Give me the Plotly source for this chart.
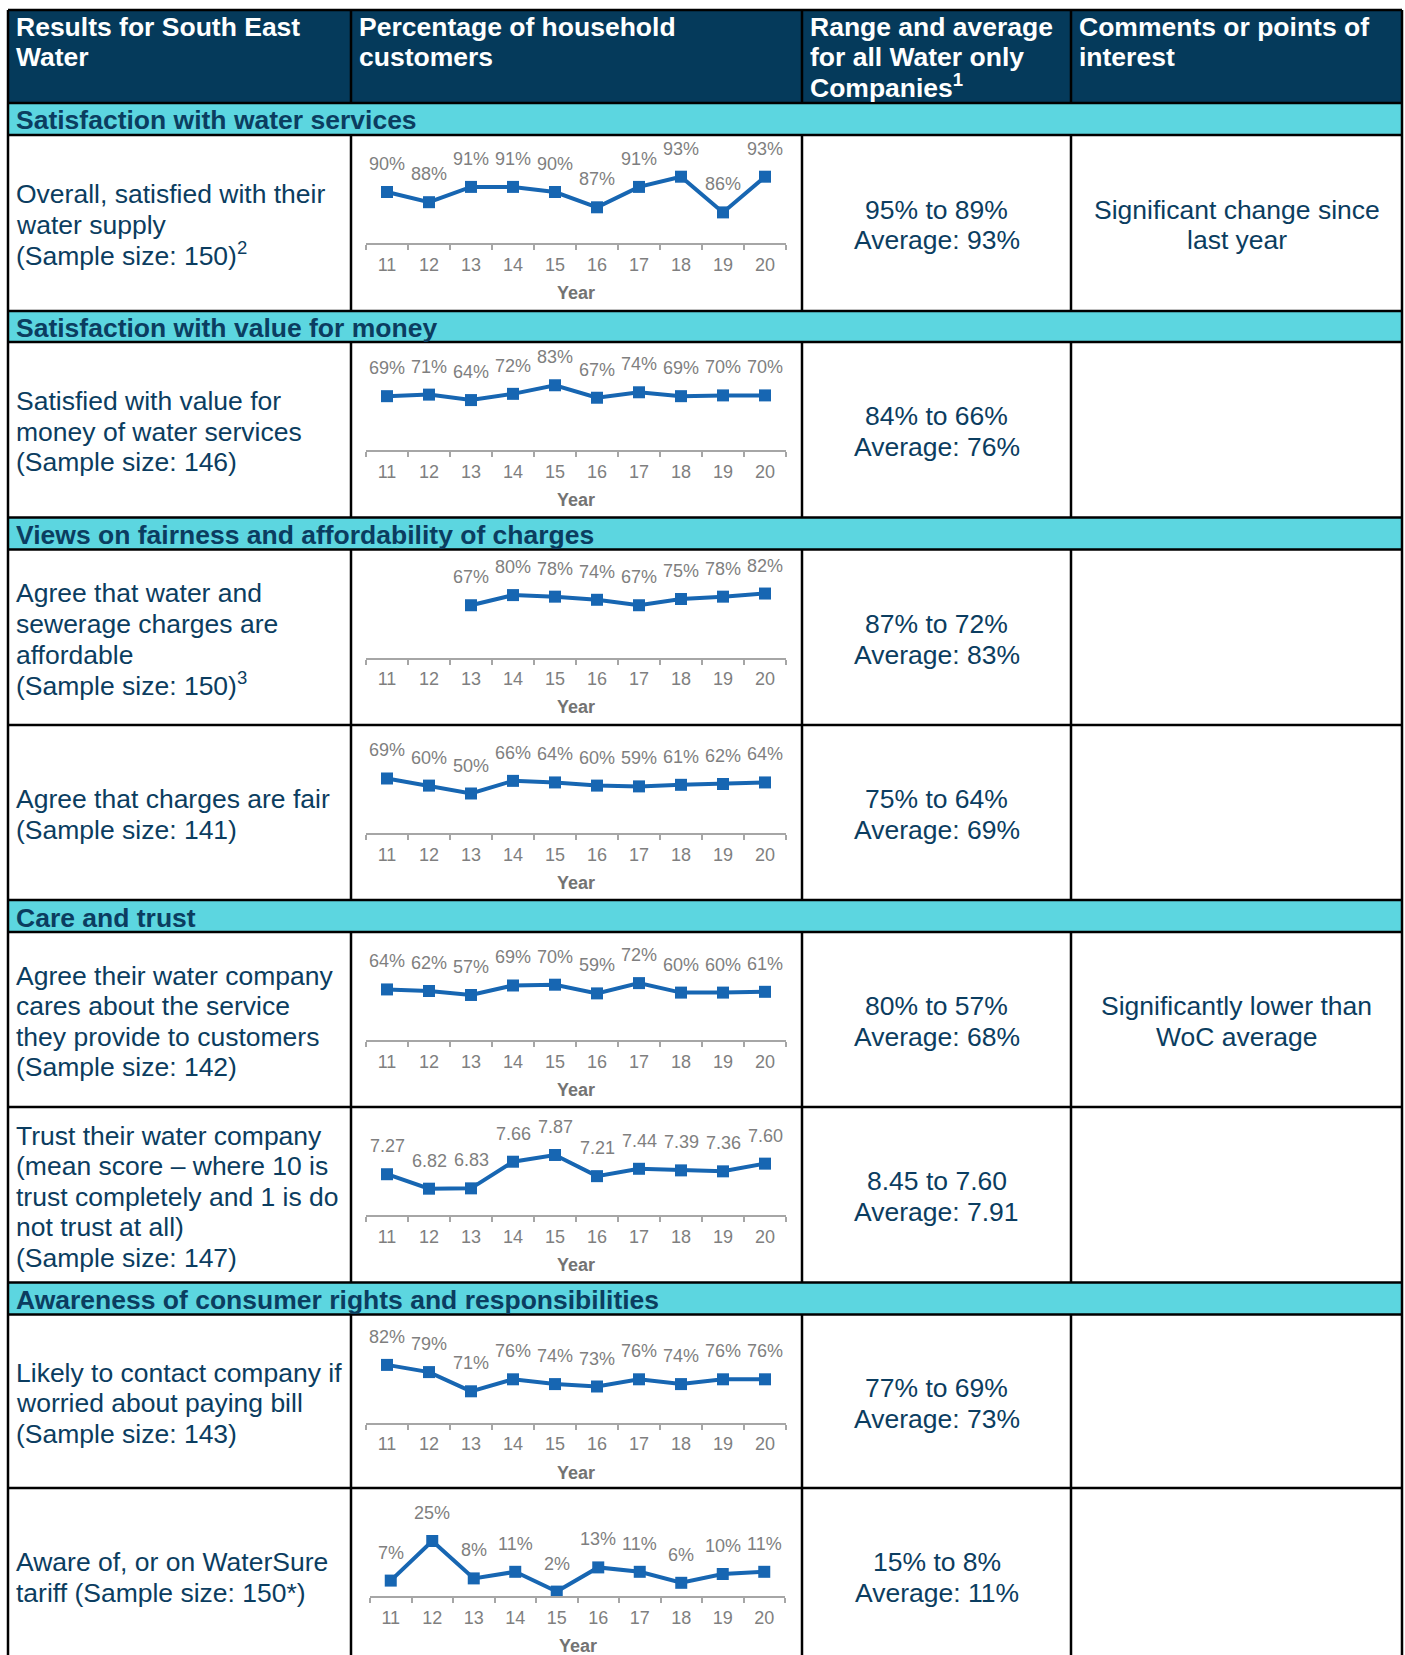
import plotly.graph_objects as go

W, H = 1405, 1655

# ---------------- data ----------------
years = ["11", "12", "13", "14", "15", "16", "17", "18", "19", "20"]

overall_satisfied = [90, 88, 91, 91, 90, 87, 91, 93, 86, 93]
value_for_money = [69, 71, 64, 72, 83, 67, 74, 69, 70, 70]
charges_affordable = [None, None, 67, 80, 78, 74, 67, 75, 78, 82]
charges_fair = [69, 60, 50, 66, 64, 60, 59, 61, 62, 64]
company_cares = [64, 62, 57, 69, 70, 59, 72, 60, 60, 61]
trust_score = [7.27, 6.82, 6.83, 7.66, 7.87, 7.21, 7.44, 7.39, 7.36, 7.60]
contact_if_worried = [82, 79, 71, 76, 74, 73, 76, 74, 76, 76]
watersure = [7, 25, 8, 11, 2, 13, 11, 6, 10, 11]

header_cells = [
    ["Results for South East", "Water"],
    ["Percentage of household", "customers"],
    ["Range and average", "for all Water only", "Companies<sup>1</sup>"],
    ["Comments or points of", "interest"],
]

section_titles = [
    "Satisfaction with water services",
    "Satisfaction with value for money",
    "Views on fairness and affordability of charges",
    "Care and trust",
    "Awareness of consumer rights and responsibilities",
]

row_labels = [
    ["Overall, satisfied with their", "water supply", "(Sample size: 150)<sup>2</sup>"],
    ["Satisfied with value for", "money of water services", "(Sample size: 146)"],
    ["Agree that water and", "sewerage charges are", "affordable", "(Sample size: 150)<sup>3</sup>"],
    ["Agree that charges are fair", "(Sample size: 141)"],
    ["Agree their water company", "cares about the service", "they provide to customers", "(Sample size: 142)"],
    ["Trust their water company", "(mean score \u2013 where 10 is", "trust completely and 1 is do",
     "not trust at all)", "(Sample size: 147)"],
    ["Likely to contact company if", "worried about paying bill", "(Sample size: 143)"],
    ["Aware of, or on WaterSure", "tariff (Sample size: 150*)"],
]

range_text = [
    ["95% to 89%", "Average: 93%"],
    ["84% to 66%", "Average: 76%"],
    ["87% to 72%", "Average: 83%"],
    ["75% to 64%", "Average: 69%"],
    ["80% to 57%", "Average: 68%"],
    ["8.45 to 7.60", "Average: 7.91"],
    ["77% to 69%", "Average: 73%"],
    ["15% to 8%", "Average: 11%"],
]

comments = [
    ["Significant change since", "last year"],
    [], [], [],
    ["Significantly lower than", "WoC average"],
    [], [], [],
]

series = [overall_satisfied, value_for_money, charges_affordable, charges_fair,
          company_cares, trust_score, contact_if_worried, watersure]
is_score = [False, False, False, False, False, True, False, False]

# ---------------- layout geometry (pixels) ----------------
TABLE_L, TABLE_R = 8, 1402
COL_X = [351, 802, 1071]
HEADER = (10, 103)
SECTIONS = [(103, 135), (311, 342), (517.5, 549.5), (900, 932), (1282.5, 1314.5)]
ROWS = [(135, 311), (342, 517.5), (549.5, 725), (725, 900),
        (932, 1107), (1107, 1282.5), (1314.5, 1488), (1488, 1663)]
# value at the axis line and pixels per unit for each chart
Y_MIN = [80, 0, 0, 0, 0, 6, 58, 0]
PX_PER_UNIT = [5.1, 0.78, 0.78, 0.79, 0.79, 32.1, 2.4, 2.2]
CHART_X = [(366, 786)] * 7 + [(370, 785)]

NAVY = "#053A5B"
TEXT_NAVY = "#0B3D60"
TEAL = "#5CD6E0"
BLUE = "#1766B2"
GRAY = "#7F7F7F"
AXIS_GRAY = "#A6A6A6"
FONT = "Liberation Sans, Arial, sans-serif"
BODY_SIZE = 26.5
LINE_H = 30.6


def fx(x):
    return x / W


def fy(y):
    return 1 - y / H


fig = go.Figure()
shapes = []
annotations = []

# backgrounds
shapes.append(dict(type="rect", xref="paper", yref="paper", x0=fx(TABLE_L), x1=fx(TABLE_R),
                   y0=fy(HEADER[1]), y1=fy(HEADER[0]), fillcolor=NAVY, line_width=0, layer="below"))
for (t, b) in SECTIONS:
    shapes.append(dict(type="rect", xref="paper", yref="paper", x0=fx(TABLE_L), x1=fx(TABLE_R),
                       y0=fy(b), y1=fy(t), fillcolor=TEAL, line_width=0, layer="below"))

# horizontal borders
h_lines = [HEADER[0], HEADER[1]] + [s[1] for s in SECTIONS] + [s[0] for s in SECTIONS] + [r[1] for r in ROWS[:-1]]
for y in sorted(set(h_lines)):
    shapes.append(dict(type="line", xref="paper", yref="paper", x0=fx(TABLE_L), x1=fx(TABLE_R),
                       y0=fy(y), y1=fy(y), line=dict(color="black", width=2.5)))
# outer verticals
for x in (TABLE_L, TABLE_R):
    shapes.append(dict(type="line", xref="paper", yref="paper", x0=fx(x), x1=fx(x),
                       y0=fy(HEADER[0]), y1=0, line=dict(color="black", width=2.5)))
# inner verticals
v_segments = [HEADER, (135, 311), (342, 517.5), (549.5, 900), (932, 1282.5), (1314.5, H)]
for (t, b) in v_segments:
    for x in COL_X:
        shapes.append(dict(type="line", xref="paper", yref="paper", x0=fx(x), x1=fx(x),
                           y0=fy(b), y1=fy(t), line=dict(color="black", width=2.5)))


def add_text(text, x, y, size=BODY_SIZE, color=TEXT_NAVY, bold=False, anchor="left"):
    if bold:
        text = "<b>" + text + "</b>"
    annotations.append(dict(text=text, x=fx(x), y=fy(y), xref="paper", yref="paper",
                            xanchor=anchor, yanchor="middle", showarrow=False,
                            font=dict(family=FONT, size=size, color=color)))


TEXT_X = [14, 357, 808, 1077]

# header text
for cell in header_cells:
    pass
for cell, x in zip(header_cells, TEXT_X):
    for i, line in enumerate(cell):
        y = 27 + i * 30.5
        if "<sup>" in line:
            y -= 2
        add_text(line, x, y, color="white", bold=True)

# section titles
for title, (t, b) in zip(section_titles, SECTIONS):
    add_text(title, TEXT_X[0], (t + b) / 2 + 1.5, bold=True)


def block(lines, x, top, bottom, anchor):
    n = len(lines)
    c = (top + bottom) / 2 + 2
    for i, line in enumerate(lines):
        y = c + (i - (n - 1) / 2) * LINE_H
        if "<sup>" in line:
            y -= 1.5
        add_text(line, x, y, anchor=anchor)


for i, (t, b) in enumerate(ROWS):
    block(row_labels[i], TEXT_X[0], t, b, "left")
    block(range_text[i], (COL_X[1] + COL_X[2]) / 2, t, b, "center")
    if comments[i]:
        block(comments[i], (COL_X[2] + TABLE_R) / 2, t, b, "center")

# charts
layout_axes = {}
for i, (vals, (t, b)) in enumerate(zip(series, ROWS)):
    n = i + 1
    xa = "x" if n == 1 else f"x{n}"
    ya = "y" if n == 1 else f"y{n}"
    axis_px = t + 108
    top_px = t + 12
    ymin = Y_MIN[i]
    ymax = ymin + (axis_px - top_px) / PX_PER_UNIT[i]
    x0, x1 = CHART_X[i]
    fig.add_trace(go.Scatter(
        x=years, y=vals, xaxis=xa, yaxis=ya, mode="lines+markers",
        line=dict(color=BLUE, width=4), marker=dict(symbol="square", size=12, color=BLUE),
        cliponaxis=False, showlegend=False, hoverinfo="skip", connectgaps=False))
    layout_axes["xaxis" if n == 1 else f"xaxis{n}"] = dict(
        domain=[fx(x0), fx(x1)], anchor=ya, type="category", categoryorder="array",
        categoryarray=years, range=[-0.5, len(years) - 0.5], showline=True,
        linecolor=AXIS_GRAY, linewidth=2, ticks="outside", tickson="boundaries",
        ticklen=5, tickwidth=2, tickcolor=AXIS_GRAY, showgrid=False, zeroline=False,
        ticklabelstandoff=4, tickfont=dict(family=FONT, size=18, color=GRAY), fixedrange=True)
    layout_axes["yaxis" if n == 1 else f"yaxis{n}"] = dict(
        domain=[fy(axis_px), fy(top_px)], anchor=xa, range=[ymin, ymax], visible=False,
        showgrid=False, zeroline=False, fixedrange=True)
    # data labels: x given as category index (annotation convention on category axes)
    for j, yv in enumerate(vals):
        if yv is None:
            continue
        label = f"{yv:.2f}" if is_score[i] else f"{yv}%"
        annotations.append(dict(x=j, y=yv, xref=xa, yref=ya, text=label, showarrow=False,
                                yshift=28, xanchor="center", yanchor="middle",
                                font=dict(family=FONT, size=18, color=GRAY)))
    annotations.append(dict(x=fx((x0 + x1) / 2), y=fy(axis_px + 50), xref="paper", yref="paper",
                            text="<b>Year</b>", showarrow=False, xanchor="center", yanchor="middle",
                            font=dict(family=FONT, size=18, color="#737373")))

fig.update_layout(
    width=W, height=H, margin=dict(l=0, r=0, t=0, b=0),
    paper_bgcolor="white", plot_bgcolor="rgba(0,0,0,0)",
    shapes=shapes, annotations=annotations, showlegend=False,
    **layout_axes,
)

fig.write_html("out.html", config={"displayModeBar": False})
